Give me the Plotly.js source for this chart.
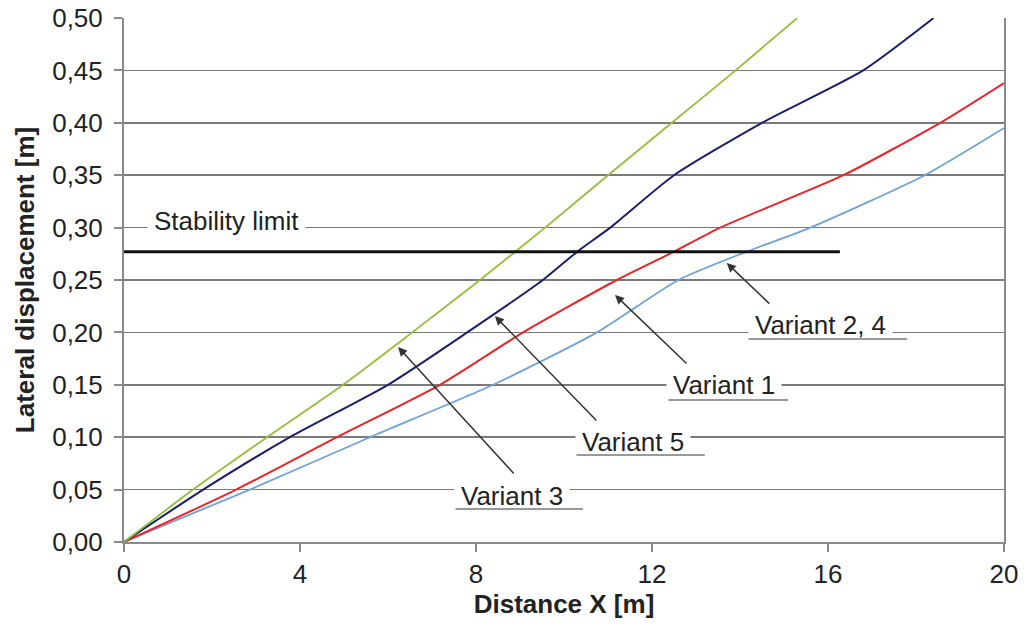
<!DOCTYPE html>
<html>
<head>
<meta charset="utf-8">
<script src="https://cdn.plot.ly/plotly-3.0.1.min.js"></script>
<style>html,body{margin:0;padding:0;background:#fff;}#chart{width:1024px;height:637px;}</style>
</head>
<body>
<div id="chart"></div>
<script>
// Variant 3 (green)
const v3X = [0, 1.57, 3.25, 4.98, 6.55, 8.09, 9.57, 11.0, 12.45, 13.9, 15.3];
const v3Y = [0, 0.05, 0.10, 0.15, 0.20, 0.25, 0.30, 0.35, 0.40, 0.45, 0.50];
// Variant 5 (navy)
const v5X = [0, 1.8, 3.77, 6.0, 7.8, 9.52, 10.3, 11.05, 12.5, 14.5, 16.8, 18.4];
const v5Y = [0, 0.05, 0.10, 0.15, 0.20, 0.25, 0.277, 0.30, 0.35, 0.40, 0.45, 0.50];
// Variant 1 (red)
const v1X = [0, 2.55, 4.84, 7.18, 9.07, 11.2, 12.5, 13.55, 16.35, 18.55, 20];
const v1Y = [0, 0.05, 0.10, 0.15, 0.20, 0.25, 0.277, 0.30, 0.35, 0.40, 0.438];
// Variant 2, 4 (light blue)
const v24X = [0, 2.86, 5.59, 8.39, 10.75, 12.6, 14.15, 15.6, 18.2, 20];
const v24Y = [0, 0.05, 0.10, 0.15, 0.20, 0.25, 0.277, 0.30, 0.35, 0.395];
// Stability limit
const stabX = [0, 16.27];
const stabY = [0.277, 0.277];

const xTicks = [0, 4, 8, 12, 16, 20];
const yTicks = [0, 0.05, 0.10, 0.15, 0.20, 0.25, 0.30, 0.35, 0.40, 0.45, 0.50];

const FONT = 'Arial, "Liberation Sans", sans-serif';
const TXT = '#222222';

const traces = [
  {x: v24X, y: v24Y, mode: 'lines', line: {color: '#6fa3d8', width: 1.8, shape: 'spline', smoothing: 0.6}, name: 'Variant 2, 4'},
  {x: v1X, y: v1Y, mode: 'lines', line: {color: '#e8262a', width: 2, shape: 'spline', smoothing: 0.6}, name: 'Variant 1'},
  {x: v5X, y: v5Y, mode: 'lines', line: {color: '#1c1f6b', width: 2, shape: 'spline', smoothing: 0.6}, name: 'Variant 5'},
  {x: v3X, y: v3Y, mode: 'lines', line: {color: '#93bf3a', width: 1.8, shape: 'spline', smoothing: 0.6}, name: 'Variant 3'},
  {x: stabX, y: stabY, mode: 'lines', line: {color: '#111111', width: 3}, name: 'Stability limit'}
];

function label(text, x, y) {
  return {x: x, y: y, xref: 'x', yref: 'y', text: text, showarrow: false,
    font: {family: FONT, size: 26, color: TXT}, bgcolor: '#ffffff', borderpad: 6,
    xanchor: 'center', yanchor: 'middle'};
}
function arrow(tx, ty, ax, ay) {
  return {x: tx, y: ty, ax: ax, ay: ay, xref: 'x', yref: 'y', axref: 'x', ayref: 'y',
    text: '', showarrow: true, arrowhead: 2, arrowsize: 1.2, arrowwidth: 1.5, arrowcolor: '#333333'};
}
function uline(x0, x1, y) {
  return {x: x1, y: y, ax: x0, ay: y, xref: 'x', yref: 'y', axref: 'x', ayref: 'y',
    text: '', showarrow: true, arrowhead: 0, arrowwidth: 2, arrowcolor: '#9a9a9a', standoff: 0, startstandoff: 0};
}

const layout = {
  width: 1024, height: 637,
  margin: {l: 124, r: 20, t: 18, b: 95},
  paper_bgcolor: '#ffffff', plot_bgcolor: '#ffffff',
  showlegend: false,
  separators: ',.',
  font: {family: FONT, size: 26, color: TXT},
  xaxis: {
    range: [0, 20], tickvals: xTicks, ticktext: xTicks.map(String),
    showgrid: false, zeroline: false,
    showline: true, linecolor: '#8a8a8a', linewidth: 2,
    ticks: 'outside', ticklen: 8, tickwidth: 2, tickcolor: '#8a8a8a',
    tickfont: {family: FONT, size: 26, color: TXT},
    title: {text: '<b>Distance X [m]</b>', font: {family: FONT, size: 26, color: TXT}, standoff: 6}
  },
  yaxis: {
    range: [0, 0.5], tickvals: yTicks, tickformat: '.2f',
    showgrid: true, gridcolor: '#7a7a7a', gridwidth: 1.5, zeroline: false,
    showline: true, linecolor: '#8a8a8a', linewidth: 2, mirror: true,
    ticks: 'outside', ticklen: 8, tickwidth: 2, tickcolor: '#8a8a8a',
    ticklabelstandoff: 6,
    tickfont: {family: FONT, size: 26, color: TXT},
    title: {text: '<b>Lateral displacement [m]</b>', font: {family: FONT, size: 26, color: TXT}, standoff: 10}
  },
  annotations: [
    label('Stability limit', 2.34, 0.3063),
    label('Variant 2, 4', 15.82, 0.2071),
    label('Variant 1', 13.64, 0.1498),
    label('Variant 5', 11.57, 0.0954),
    label('Variant 3', 8.82, 0.0439),
    uline(14.16, 17.80, 0.1937),
    uline(12.34, 15.09, 0.1355),
    uline(10.25, 13.20, 0.0830),
    uline(7.50, 10.43, 0.0315),
    arrow(6.23, 0.186, 8.89, 0.064),
    arrow(8.43, 0.2156, 10.77, 0.1145),
    arrow(11.16, 0.2357, 12.82, 0.169),
    arrow(13.70, 0.2662, 14.70, 0.2261)
  ]
};

Plotly.newPlot('chart', traces, layout, {displayModeBar: false, staticPlot: true});
</script>
</body>
</html>
